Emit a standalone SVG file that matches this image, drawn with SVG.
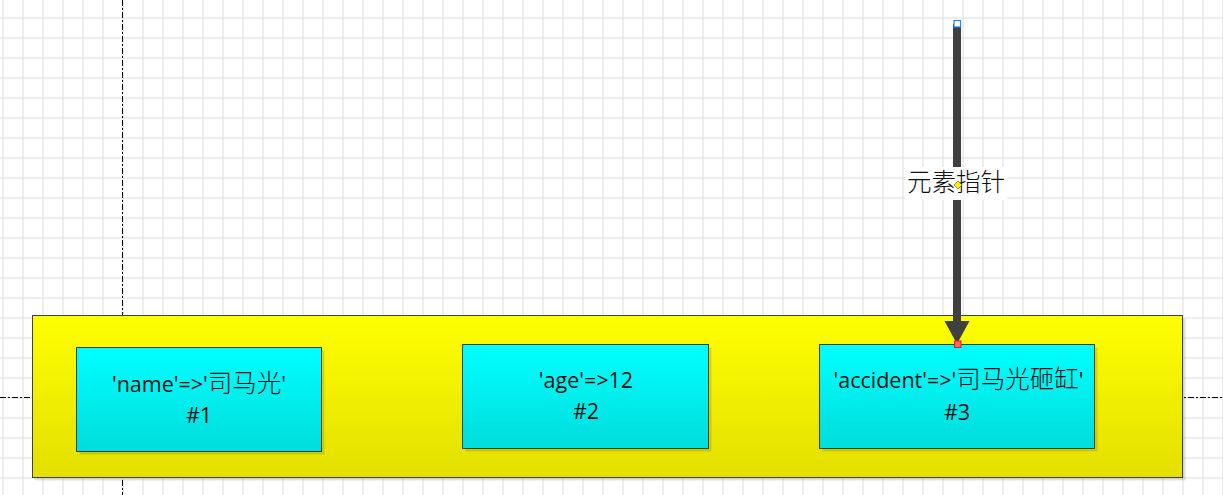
<svg xmlns="http://www.w3.org/2000/svg" width="1223" height="495" viewBox="0 0 1223 495">
  <defs>
    <pattern id="grid" x="2.5" y="17.5" width="20" height="20" patternUnits="userSpaceOnUse">
      <path d="M0 0.5 H20 M0.5 0 V20" fill="none" stroke="#dcdcdc" stroke-width="1"/>
    </pattern>
    <linearGradient id="yellowGrad" x1="0" y1="0" x2="0" y2="1">
      <stop offset="0" stop-color="#ffff00"/>
      <stop offset="1" stop-color="#e3df00"/>
    </linearGradient>
    <linearGradient id="cyanGrad" x1="0" y1="0" x2="0" y2="1">
      <stop offset="0" stop-color="#00ffff"/>
      <stop offset="1" stop-color="#00dcdc"/>
    </linearGradient>
    <style>
      .shadow { fill: #000; fill-opacity: 0.12; }
      .container { fill: url(#yellowGrad); stroke: #404040; stroke-width: 1; }
      .node { fill: url(#cyanGrad); stroke: #404040; stroke-width: 1; }
      .label { font-family: "Open Sans", "Noto Sans CJK SC", sans-serif; font-size: 21.5px; fill: #111; text-anchor: middle; }
      .cjk { font-family: "Noto Sans CJK SC", sans-serif; font-size: 24.5px; font-weight: 300; }
      .guide { stroke: #000; stroke-width: 1; stroke-dasharray: 6 2 2 2; fill: none; }
      .edgeLabel { font-family: "Noto Sans CJK SC", sans-serif; font-size: 24.5px; font-weight: 300; fill: #111; text-anchor: middle; }
    </style>
  </defs>

  <rect x="0" y="0" width="1223" height="495" fill="#ffffff"/>
  <rect x="0" y="0" width="1223" height="495" fill="url(#grid)"/>

  <g id="guides">
    <line class="guide" x1="122.5" y1="0" x2="122.5" y2="495"/>
    <line class="guide" x1="0" y1="397.5" x2="1223" y2="397.5"/>
  </g>

  <g id="container">
    <rect class="shadow" x="35.5" y="318.5" width="1150" height="162"/>
    <rect class="container" x="32.5" y="315.5" width="1150" height="162"/>
  </g>

  <g id="node1">
    <rect class="shadow" x="79.5" y="350.5" width="245" height="104"/>
    <rect class="node" x="76.5" y="347.5" width="245" height="104"/>
    <text class="label" x="199" y="392">'name'=&gt;'<tspan class="cjk">司马光</tspan>'</text>
    <text class="label" x="199" y="423">#1</text>
  </g>

  <g id="node2">
    <rect class="shadow" x="465.5" y="347.5" width="246" height="104"/>
    <rect class="node" x="462.5" y="344.5" width="246" height="104"/>
    <text class="label" x="586" y="388">'age'=&gt;12</text>
    <text class="label" x="586" y="419">#2</text>
  </g>

  <g id="node3">
    <rect class="shadow" x="822.5" y="347.5" width="275" height="104"/>
    <rect class="node" x="819.5" y="344.5" width="275" height="104"/>
    <text class="label" x="958.5" y="388">'accident'=&gt;'<tspan class="cjk">司马光砸缸</tspan>'</text>
    <text class="label" x="957" y="420">#3</text>
  </g>

  <g id="connectors">
    <rect x="953" y="24" width="8" height="298" fill="#404040"/>
    <polygon points="944.5,321 969.5,321 957,344" fill="#404040"/>
    <rect x="905" y="167" width="102" height="33" fill="#ffffff"/>
    <text class="edgeLabel" x="956" y="191">元素指针</text>
    <rect x="954" y="20.5" width="6.5" height="6.5" fill="#ffffff" stroke="#1e88e5" stroke-width="1.2"/>
    <polygon points="958,181 962,185 958,189 954,185" fill="#ffee00" stroke="#808000" stroke-width="0.8"/>
    <rect x="954.5" y="341" width="6.5" height="6.5" fill="#ff6666" stroke="#e02020" stroke-width="1"/>
  </g>
</svg>
